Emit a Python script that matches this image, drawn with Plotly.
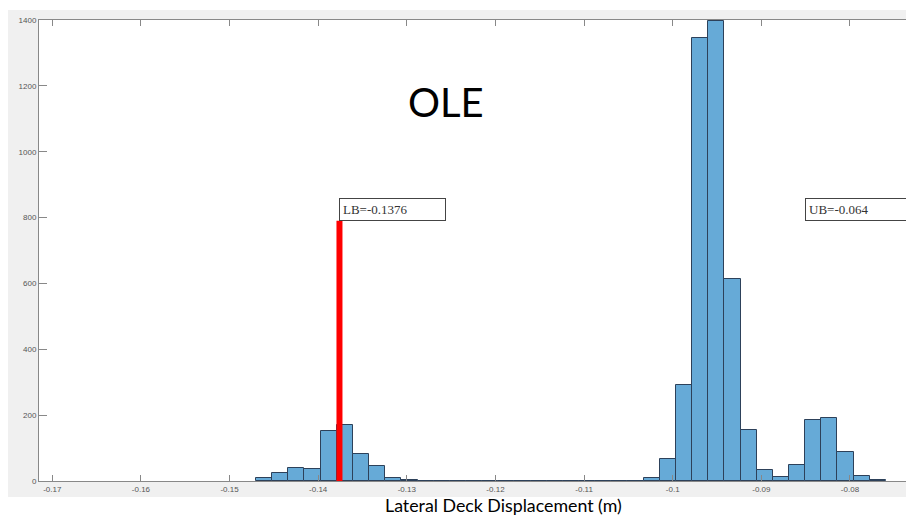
import plotly.graph_objects as go

# Histogram of lateral deck displacement (OLE level)
bin_start = -0.147017          # left edge of first bin (m)
bin_width = 0.0018222          # bin width (m)
counts = [
    9, 23, 39, 37, 153, 169, 82, 46, 10, 3,
    0, 0, 0, 0, 0, 0, 0, 0, 0, 0, 0, 0, 0, 0,
    10, 68, 292, 1346, 1396, 612, 154, 33, 11, 48, 184, 190, 88, 15, 4,
]
bin_centers = [bin_start + (i + 0.5) * bin_width for i in range(len(counts))]

# Bound values
lb_value = -0.1376
ub_value = -0.064
bound_top = 790                # height reached by the bound markers (counts)

x_ticks = [-0.17, -0.16, -0.15, -0.14, -0.13, -0.12, -0.11, -0.10, -0.09, -0.08]
x_tick_text = ["-0.17", "-0.16", "-0.15", "-0.14", "-0.13", "-0.12", "-0.11", "-0.1", "-0.09", "-0.08"]
y_ticks = [0, 200, 400, 600, 800, 1000, 1200, 1400]

W, H = 906, 516
ml, mr, mt, mb = 39, 0, 20, 35

fig = go.Figure()
fig.add_trace(go.Bar(
    x=bin_centers, y=counts, width=bin_width,
    marker=dict(color="rgb(102,170,215)", line=dict(color="rgb(45,65,90)", width=1)),
    hoverinfo="x+y", showlegend=False,
))

# Bound markers
for val in (lb_value, ub_value):
    fig.add_shape(type="line", xref="x", yref="y", x0=val, x1=val, y0=0, y1=bound_top,
                  line=dict(color="rgb(255,0,0)", width=6), layer="above")

pw = W - ml - mr
ph = H - mt - mb
# light grey figure panel behind the axes, white axes area
fig.add_shape(type="rect", xref="paper", yref="paper",
              x0=(8 - ml) / pw, x1=1.02, y0=-(497 - (H - mb)) / ph, y1=1 + (mt - 10) / ph,
              fillcolor="#f0f0f0", line=dict(width=0), layer="below")
fig.add_shape(type="rect", xref="paper", yref="paper", x0=0, x1=1, y0=0, y1=1,
              fillcolor="white", line=dict(width=0), layer="below")

box_font = dict(family="Liberation Serif, Times New Roman, serif", size=13, color="#333333")
fig.add_annotation(x=lb_value, y=bound_top, xref="x", yref="y", xanchor="left", yanchor="bottom",
                   text="LB=" + str(lb_value), showarrow=False, font=box_font, align="left",
                   width=99, bgcolor="white", bordercolor="#444444", borderwidth=1, borderpad=3)
fig.add_annotation(x=-0.08508, y=bound_top, xref="x", yref="y", xanchor="left", yanchor="bottom",
                   text="UB=" + str(ub_value), showarrow=False, font=box_font, align="left",
                   width=108, bgcolor="white", bordercolor="#444444", borderwidth=1, borderpad=3)

fig.add_annotation(x=(445.5 - ml) / pw, y=1 - (102 - mt) / ph, xref="paper", yref="paper",
                   xanchor="center", yanchor="middle",
                   text="OLE", showarrow=False, font=dict(family="Lato, sans-serif", size=40, color="black"))
fig.add_annotation(x=(503.5 - ml) / pw, y=-(505 - (H - mb)) / ph, xref="paper", yref="paper",
                   xanchor="center", yanchor="middle",
                   text="Lateral Deck Displacement (m)", showarrow=False,
                   font=dict(family="Lato, sans-serif", size=17.8, color="black"))

tick_font = dict(family="Liberation Sans, Arial, sans-serif", size=8, color="#555555")
fig.update_xaxes(range=[-0.171501, -0.073679], tickvals=x_ticks, ticktext=x_tick_text,
                 ticks="inside", ticklen=6, tickcolor="#888888", tickwidth=1,
                 showline=True, linecolor="#888888", linewidth=1, mirror="ticks",
                 showgrid=False, zeroline=False, tickfont=tick_font)
fig.update_yaxes(range=[0, 1400], tickvals=y_ticks, ticks="inside", ticklen=8,
                 tickcolor="#888888", tickwidth=1, showline=True, linecolor="#888888",
                 linewidth=1, showgrid=False, zeroline=False, tickfont=tick_font)

fig.update_layout(width=W, height=H, margin=dict(l=ml, r=mr, t=mt, b=mb),
                  paper_bgcolor="white", plot_bgcolor="white", bargap=0)

fig.write_html("out.html")
